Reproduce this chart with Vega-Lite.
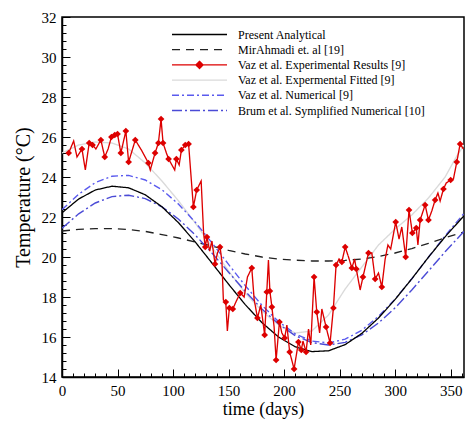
{
  "$schema": "https://vega.github.io/schema/vega-lite/v6.json",
  "width": 402,
  "height": 360,
  "autosize": "none",
  "padding": {"left": 62, "top": 17, "right": 2, "bottom": 49},
  "background": "white",
  "config": {
    "font": "Liberation Serif",
    "view": {"stroke": "black", "strokeWidth": 1.5},
    "axis": {
      "grid": false,
      "domainColor": "black",
      "domainWidth": 1.5,
      "tickColor": "black",
      "tickWidth": 1,
      "labelFont": "Liberation Serif",
      "labelFontSize": 15,
      "labelColor": "black",
      "titleFont": "Liberation Serif",
      "titleFontSize": 18,
      "titleFontWeight": "normal",
      "titleColor": "black"
    },
    "legend": {
      "orient": "none",
      "legendX": 131,
      "legendY": 11,
      "padding": 0,
      "title": null,
      "symbolSize": 121,
      "symbolStrokeWidth": 1.2,
      "symbolFillColor": "#dd0000",
      "labelFont": "Liberation Serif",
      "labelFontSize": 12,
      "labelColor": "black",
      "labelOffset": 32,
      "labelLimit": 300,
      "rowPadding": 2.2
    }
  },
  "datasets": {
    "lines": [
      {"s":"d","d":0,"t":25.2},{"s":"d","d":15,"t":25.6},{"s":"d","d":30,"t":25.75},{"s":"d","d":45,"t":25.7},{"s":"d","d":60,"t":25.4},{"s":"d","d":75,"t":24.7},{"s":"d","d":90,"t":23.8},{"s":"d","d":105,"t":22.8},{"s":"d","d":120,"t":21.7},{"s":"d","d":135,"t":20.5},{"s":"d","d":150,"t":19.3},{"s":"d","d":165,"t":18.2},{"s":"d","d":180,"t":17.3},{"s":"d","d":195,"t":16.6},{"s":"d","d":210,"t":16.2},{"s":"d","d":225,"t":16.3},{"s":"d","d":240,"t":17.1},{"s":"d","d":255,"t":18.4},{"s":"d","d":270,"t":19.5},{"s":"d","d":285,"t":20.6},{"s":"d","d":300,"t":21.4},{"s":"d","d":315,"t":22.1},{"s":"d","d":330,"t":22.95},{"s":"d","d":345,"t":24.0},{"s":"d","d":355,"t":25.0},{"s":"d","d":362,"t":25.6},
      {"s":"b","d":0,"t":21.3},{"s":"b","d":15,"t":21.38},{"s":"b","d":30,"t":21.42},{"s":"b","d":45,"t":21.42},{"s":"b","d":60,"t":21.37},{"s":"b","d":75,"t":21.28},{"s":"b","d":90,"t":21.12},{"s":"b","d":105,"t":20.95},{"s":"b","d":120,"t":20.75},{"s":"b","d":135,"t":20.55},{"s":"b","d":150,"t":20.33},{"s":"b","d":165,"t":20.15},{"s":"b","d":180,"t":20.0},{"s":"b","d":195,"t":19.9},{"s":"b","d":210,"t":19.84},{"s":"b","d":225,"t":19.8},{"s":"b","d":240,"t":19.8},{"s":"b","d":255,"t":19.83},{"s":"b","d":270,"t":19.9},{"s":"b","d":285,"t":20.02},{"s":"b","d":300,"t":20.2},{"s":"b","d":315,"t":20.42},{"s":"b","d":330,"t":20.68},{"s":"b","d":345,"t":20.96},{"s":"b","d":362,"t":21.25},
      {"s":"e","d":0,"t":22.36},{"s":"e","d":15,"t":23.14},{"s":"e","d":30,"t":23.72},{"s":"e","d":45,"t":24.04},{"s":"e","d":60,"t":24.08},{"s":"e","d":75,"t":23.85},{"s":"e","d":90,"t":23.36},{"s":"e","d":105,"t":22.64},{"s":"e","d":120,"t":21.74},{"s":"e","d":135,"t":20.71},{"s":"e","d":150,"t":19.63},{"s":"e","d":165,"t":18.57},{"s":"e","d":180,"t":17.59},{"s":"e","d":195,"t":16.77},{"s":"e","d":210,"t":16.16},{"s":"e","d":225,"t":15.8},{"s":"e","d":240,"t":15.7},{"s":"e","d":255,"t":15.89},{"s":"e","d":270,"t":16.34},{"s":"e","d":285,"t":17.03},{"s":"e","d":300,"t":17.9},{"s":"e","d":315,"t":18.91},{"s":"e","d":330,"t":19.99},{"s":"e","d":345,"t":21.06},{"s":"e","d":360,"t":22.05},{"s":"e","d":362,"t":22.18},
      {"s":"f","d":0,"t":21.44},{"s":"f","d":15,"t":22.16},{"s":"f","d":30,"t":22.7},{"s":"f","d":45,"t":23.02},{"s":"f","d":60,"t":23.09},{"s":"f","d":75,"t":22.92},{"s":"f","d":90,"t":22.51},{"s":"f","d":105,"t":21.89},{"s":"f","d":120,"t":21.1},{"s":"f","d":135,"t":20.2},{"s":"f","d":150,"t":19.24},{"s":"f","d":165,"t":18.29},{"s":"f","d":180,"t":17.4},{"s":"f","d":195,"t":16.65},{"s":"f","d":210,"t":16.07},{"s":"f","d":225,"t":15.72},{"s":"f","d":240,"t":15.6},{"s":"f","d":255,"t":15.73},{"s":"f","d":270,"t":16.11},{"s":"f","d":285,"t":16.7},{"s":"f","d":300,"t":17.46},{"s":"f","d":315,"t":18.35},{"s":"f","d":330,"t":19.3},{"s":"f","d":345,"t":20.26},{"s":"f","d":360,"t":21.16},{"s":"f","d":362,"t":21.28},
      {"s":"a","d":0,"t":22.21},{"s":"a","d":15,"t":22.9},{"s":"a","d":30,"t":23.35},{"s":"a","d":45,"t":23.54},{"s":"a","d":60,"t":23.46},{"s":"a","d":75,"t":23.11},{"s":"a","d":90,"t":22.51},{"s":"a","d":105,"t":21.71},{"s":"a","d":120,"t":20.75},{"s":"a","d":135,"t":19.7},{"s":"a","d":150,"t":18.64},{"s":"a","d":165,"t":17.62},{"s":"a","d":180,"t":16.72},{"s":"a","d":195,"t":16.0},{"s":"a","d":210,"t":15.51},{"s":"a","d":225,"t":15.27},{"s":"a","d":240,"t":15.31},{"s":"a","d":255,"t":15.62},{"s":"a","d":270,"t":16.18},{"s":"a","d":285,"t":16.95},{"s":"a","d":300,"t":17.88},{"s":"a","d":315,"t":18.91},{"s":"a","d":330,"t":19.99},{"s":"a","d":345,"t":21.01},{"s":"a","d":360,"t":21.94},{"s":"a","d":362,"t":22.05},
      {"s":"c","d":6,"t":25.2,"m":1},{"s":"c","d":10.5,"t":25.8,"m":0},{"s":"c","d":13.5,"t":25.0,"m":0},{"s":"c","d":18,"t":25.4,"m":1},{"s":"c","d":21,"t":24.35,"m":0},{"s":"c","d":24.5,"t":25.7,"m":1},{"s":"c","d":27.5,"t":25.6,"m":1},{"s":"c","d":30.5,"t":25.4,"m":0},{"s":"c","d":35,"t":25.85,"m":1},{"s":"c","d":38.5,"t":25.0,"m":1},{"s":"c","d":41.5,"t":25.4,"m":0},{"s":"c","d":44.5,"t":26.0,"m":1},{"s":"c","d":47.5,"t":26.1,"m":1},{"s":"c","d":50,"t":26.15,"m":1},{"s":"c","d":53,"t":25.2,"m":1},{"s":"c","d":57.5,"t":26.3,"m":1},{"s":"c","d":60,"t":24.75,"m":1},{"s":"c","d":66,"t":25.85,"m":1},{"s":"c","d":72,"t":25.3,"m":0},{"s":"c","d":77.8,"t":24.7,"m":1},{"s":"c","d":79.5,"t":24.35,"m":0},{"s":"c","d":83.8,"t":25.2,"m":1},{"s":"c","d":86.8,"t":25.7,"m":1},{"s":"c","d":89.2,"t":26.9,"m":1},{"s":"c","d":91,"t":25.7,"m":1},{"s":"c","d":94,"t":25.2,"m":0},{"s":"c","d":96,"t":24.9,"m":1},{"s":"c","d":99,"t":24.6,"m":0},{"s":"c","d":101.5,"t":24.35,"m":0},{"s":"c","d":103,"t":24.9,"m":1},{"s":"c","d":105.5,"t":24.6,"m":0},{"s":"c","d":107.5,"t":25.35,"m":1},{"s":"c","d":111,"t":25.6,"m":1},{"s":"c","d":114,"t":25.65,"m":1},{"s":"c","d":118.3,"t":22.5,"m":1},{"s":"c","d":121.3,"t":23.35,"m":1},{"s":"c","d":125.3,"t":23.8,"m":0},{"s":"c","d":127.5,"t":21.2,"m":0},{"s":"c","d":129,"t":20.5,"m":1},{"s":"c","d":130.5,"t":21.0,"m":1},{"s":"c","d":133,"t":20.3,"m":0},{"s":"c","d":135,"t":20.8,"m":0},{"s":"c","d":137.8,"t":19.65,"m":1},{"s":"c","d":140,"t":20.2,"m":0},{"s":"c","d":142.3,"t":20.5,"m":1},{"s":"c","d":144,"t":19.8,"m":0},{"s":"c","d":145.3,"t":17.85,"m":0},{"s":"c","d":147.5,"t":17.75,"m":1},{"s":"c","d":148.9,"t":16.3,"m":0},{"s":"c","d":150.7,"t":17.45,"m":1},{"s":"c","d":153.8,"t":17.4,"m":1},{"s":"c","d":157,"t":17.8,"m":0},{"s":"c","d":160.5,"t":18.2,"m":1},{"s":"c","d":164,"t":18.0,"m":0},{"s":"c","d":167,"t":19.0,"m":0},{"s":"c","d":170.9,"t":19.45,"m":1},{"s":"c","d":173,"t":17.9,"m":0},{"s":"c","d":176,"t":16.95,"m":1},{"s":"c","d":179,"t":17.6,"m":0},{"s":"c","d":182.5,"t":16.1,"m":1},{"s":"c","d":184.4,"t":18.25,"m":1},{"s":"c","d":185.9,"t":19.85,"m":0},{"s":"c","d":187.2,"t":18.3,"m":1},{"s":"c","d":189,"t":17.5,"m":1},{"s":"c","d":191,"t":16.5,"m":0},{"s":"c","d":192.8,"t":14.85,"m":1},{"s":"c","d":195.8,"t":16.75,"m":1},{"s":"c","d":198,"t":16.2,"m":0},{"s":"c","d":200.5,"t":15.95,"m":1},{"s":"c","d":202.5,"t":16.6,"m":0},{"s":"c","d":205,"t":15.25,"m":1},{"s":"c","d":209,"t":14.4,"m":1},{"s":"c","d":212.9,"t":15.75,"m":1},{"s":"c","d":215.5,"t":15.35,"m":1},{"s":"c","d":217,"t":15.8,"m":0},{"s":"c","d":219.8,"t":15.25,"m":1},{"s":"c","d":222,"t":16.4,"m":0},{"s":"c","d":224,"t":15.6,"m":0},{"s":"c","d":227,"t":19.0,"m":1},{"s":"c","d":229.4,"t":17.25,"m":1},{"s":"c","d":232,"t":16.2,"m":0},{"s":"c","d":234,"t":17.4,"m":0},{"s":"c","d":237.8,"t":16.5,"m":1},{"s":"c","d":241.4,"t":15.7,"m":1},{"s":"c","d":244.4,"t":17.45,"m":1},{"s":"c","d":246.8,"t":19.6,"m":1},{"s":"c","d":249.5,"t":19.9,"m":0},{"s":"c","d":252,"t":19.75,"m":1},{"s":"c","d":255,"t":20.5,"m":1},{"s":"c","d":258,"t":20.0,"m":0},{"s":"c","d":261,"t":19.45,"m":1},{"s":"c","d":263.5,"t":19.9,"m":0},{"s":"c","d":265,"t":19.4,"m":1},{"s":"c","d":268.5,"t":18.35,"m":0},{"s":"c","d":271,"t":19.0,"m":1},{"s":"c","d":273.5,"t":19.6,"m":0},{"s":"c","d":276,"t":20.2,"m":1},{"s":"c","d":279,"t":20.2,"m":0},{"s":"c","d":282,"t":18.9,"m":1},{"s":"c","d":285,"t":19.2,"m":0},{"s":"c","d":288,"t":18.5,"m":1},{"s":"c","d":291,"t":19.9,"m":0},{"s":"c","d":293.5,"t":20.6,"m":0},{"s":"c","d":296,"t":20.4,"m":0},{"s":"c","d":300.5,"t":21.75,"m":1},{"s":"c","d":303.5,"t":20.9,"m":0},{"s":"c","d":306,"t":21.5,"m":0},{"s":"c","d":309.5,"t":20.0,"m":1},{"s":"c","d":312.5,"t":22.35,"m":1},{"s":"c","d":315.5,"t":21.2,"m":1},{"s":"c","d":319,"t":21.45,"m":1},{"s":"c","d":320.5,"t":20.6,"m":0},{"s":"c","d":322.5,"t":21.85,"m":1},{"s":"c","d":327,"t":22.6,"m":1},{"s":"c","d":330,"t":21.85,"m":1},{"s":"c","d":333,"t":22.3,"m":0},{"s":"c","d":336,"t":22.85,"m":1},{"s":"c","d":338.5,"t":23.2,"m":0},{"s":"c","d":340.5,"t":22.8,"m":0},{"s":"c","d":343.5,"t":23.4,"m":1},{"s":"c","d":346,"t":23.7,"m":0},{"s":"c","d":350,"t":23.85,"m":1},{"s":"c","d":352.5,"t":23.9,"m":0},{"s":"c","d":355.5,"t":24.75,"m":1},{"s":"c","d":358.5,"t":25.65,"m":1},{"s":"c","d":361.5,"t":25.4,"m":0}
    ]
  },
  "data": {"name": "lines"},
  "encoding": {
    "x": {
      "field": "d", "type": "quantitative",
      "scale": {"domain": [0, 362], "nice": false, "zero": false},
      "axis": {
        "title": "time (days)",
        "values": [0,10,20,30,40,50,60,70,80,90,100,110,120,130,140,150,160,170,180,190,200,210,220,230,240,250,260,270,280,290,300,310,320,330,340,350,360],
        "labelExpr": "datum.value % 50 === 0 ? format(datum.value, 'd') : ''",
        "tickSize": {"condition": {"test": "datum.value % 50 === 0", "value": -8}, "value": -4},
        "labelPadding": 14,
        "labelFlush": false,
        "titlePadding": 2
      }
    },
    "y": {
      "field": "t", "type": "quantitative",
      "scale": {"domain": [14, 32], "nice": false, "zero": false},
      "axis": {
        "title": "Temperature (°C)",
        "titleFontSize": 20,
        "values": [14,14.4,14.8,15.2,15.6,16,16.4,16.8,17.2,17.6,18,18.4,18.8,19.2,19.6,20,20.4,20.8,21.2,21.6,22,22.4,22.8,23.2,23.6,24,24.4,24.8,25.2,25.6,26,26.4,26.8,27.2,27.6,28,28.4,28.8,29.2,29.6,30,30.4,30.8,31.2,31.6,32],
        "labelExpr": "abs(datum.value - round(datum.value / 2) * 2) < 0.01 ? format(datum.value, 'd') : ''",
        "tickSize": {"condition": {"test": "abs(datum.value - round(datum.value / 2) * 2) < 0.01", "value": -8}, "value": -4},
        "labelPadding": 14,
        "labelFlush": false,
        "titlePadding": 8
      }
    }
  },
  "layer": [
    {
      "mark": {"type": "line", "clip": true},
      "encoding": {
        "color": {
          "field": "s", "type": "nominal",
          "scale": {"domain": ["a","b","c","d","e","f"], "range": ["#000000","#222222","#dd0000","#dadada","#5a5aee","#4b4bd6"]},
          "legend": {"labelExpr": "datum.label == 'a' ? 'Present Analytical' : datum.label == 'b' ? 'MirAhmadi et. al [19]' : datum.label == 'c' ? 'Vaz et al. Experimental Results [9]' : datum.label == 'd' ? 'Vaz et al. Expermental Fitted [9]' : datum.label == 'e' ? 'Vaz et al. Numerical [9]' : 'Brum et al. Symplified Numerical [10]'"}
        },
        "strokeDash": {
          "field": "s", "type": "nominal",
          "scale": {"domain": ["a","b","c","d","e","f"], "range": [[1,0],[8,6],[1,0],[1,0],[7,3,2,3],[10,3,2,3]]},
          "legend": {"labelExpr": "datum.label == 'a' ? 'Present Analytical' : datum.label == 'b' ? 'MirAhmadi et. al [19]' : datum.label == 'c' ? 'Vaz et al. Experimental Results [9]' : datum.label == 'd' ? 'Vaz et al. Expermental Fitted [9]' : datum.label == 'e' ? 'Vaz et al. Numerical [9]' : 'Brum et al. Symplified Numerical [10]'"}
        },
        "strokeWidth": {
          "field": "s", "type": "nominal",
          "scale": {"domain": ["a","b","c","d","e","f"], "range": [1.3,1.4,1.2,0.8,1.3,1.3]},
          "legend": null
        }
      }
    },
    {
      "transform": [{"filter": "datum.m == 1"}],
      "mark": {"type": "point", "shape": "diamond", "filled": true, "color": "#dd0000", "size": 45, "opacity": 1, "clip": true}
    },
    {
      "transform": [{"filter": "false"}],
      "mark": {"type": "point", "filled": true, "color": "#dd0000", "opacity": 1},
      "encoding": {
        "shape": {
          "field": "s", "type": "nominal",
          "scale": {"domain": ["a","b","c","d","e","f"], "range": ["M-5,0H5","M-5,0H5","M-5,0H5M0,-0.65L0.65,0L0,0.65L-0.65,0Z","M-5,0H5","M-5,0H5","M-5,0H5"]},
          "legend": {"labelExpr": "datum.label == 'a' ? 'Present Analytical' : datum.label == 'b' ? 'MirAhmadi et. al [19]' : datum.label == 'c' ? 'Vaz et al. Experimental Results [9]' : datum.label == 'd' ? 'Vaz et al. Expermental Fitted [9]' : datum.label == 'e' ? 'Vaz et al. Numerical [9]' : 'Brum et al. Symplified Numerical [10]'"}
        }
      }
    }
  ]
}
